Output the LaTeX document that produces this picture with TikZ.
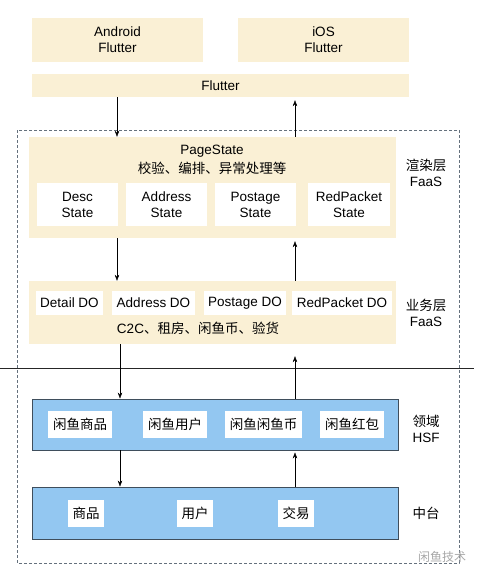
\documentclass[tikz,border=0pt]{standalone}
\usepackage{fontspec}
\setmainfont{Liberation Sans}
\newfontfamily\cjk{Noto Sans CJK SC}
\usetikzlibrary{arrows.meta}

\definecolor{cream}{HTML}{FAF0D5}
\definecolor{skyblue}{HTML}{93C7F1}
\definecolor{slate}{HTML}{3F4E5C}

\begin{document}
\begin{tikzpicture}[x=1pt,y=-1pt,thin,>={Stealth[length=6pt,width=4.5pt]},
  txt/.style={font=\fontsize{13.5}{16}\selectfont,align=center,inner sep=0pt},
  layer/.style={txt,fill=cream},
  item/.style={txt,fill=white},
  bluebox/.style={fill=skyblue,draw=slate,line width=0.9pt,inner sep=0pt}]

\useasboundingbox (0,0) rectangle (478,578);

% Top: platforms and Flutter.
\node[layer,minimum width=171,minimum height=44] (android) at (117.5,40) {Android\\Flutter};
\node[layer,minimum width=171,minimum height=44] (ios) at (323.5,40) {iOS\\Flutter};
\node[layer,minimum width=377,minimum height=23] (flutter) at (220.5,85.5) {Flutter};

% Dashed frame round the FaaS part.
\draw[dashed,color=slate!80,line width=0.8pt,dash pattern=on 3pt off 2pt] (17,130) rectangle (459,563);

% Render layer.
\node[layer,minimum width=367,minimum height=101] (page) at (212.5,187.5) {};
\node[txt] (pagetxt) at (212,160) {PageState\\[3pt]{\cjk 校验、编排、异常处理等}};
\node[item,minimum width=81,minimum height=43] (desc) at (77.5,204.5) {Desc\\State};
\node[item,minimum width=81,minimum height=43] (addr) at (166.5,204.5) {Address\\State};
\node[item,minimum width=81,minimum height=43] (post) at (255.5,204.5) {Postage\\State};
\node[item,minimum width=82,minimum height=43] (red) at (349,204.5) {RedPacket\\State};
\node[txt] (renderlbl) at (426,173) {{\cjk 渲染层}\\FaaS};

% Business layer.
\node[layer,minimum width=367,minimum height=63] (biz) at (212.5,312.5) {};
\node[item,minimum width=67,minimum height=24] (detaildo) at (69.5,303) {Detail DO};
\node[item,minimum width=83,minimum height=24] (addrdo) at (153.5,303) {Address DO};
\node[item,minimum width=82,minimum height=24] (postdo) at (245,303) {Postage DO};
\node[item,minimum width=100,minimum height=24] (reddo) at (342,303) {RedPacket DO};
\node[txt] (biztxt) at (198,328) {C2C{\cjk 、租房、闲鱼币、验货}};
\node[txt] (bizlbl) at (426,313) {{\cjk 业务层}\\FaaS};

% Separator.
\draw[color=black!85,line width=0.8pt] (0,368) -- (474,368);

% Domain layer.
\node[bluebox,minimum width=366,minimum height=51] (dom) at (215,424.5) {};
\node[item,minimum width=64,minimum height=27] (goods) at (80,424.5) {\cjk 闲鱼商品};
\node[item,minimum width=64,minimum height=27] (user) at (175,424.5) {\cjk 闲鱼用户};
\node[item,minimum width=77,minimum height=27] (coin) at (263.5,424.5) {\cjk 闲鱼闲鱼币};
\node[item,minimum width=64,minimum height=27] (packet) at (352,424.5) {\cjk 闲鱼红包};
\node[txt] (domlbl) at (426,429) {{\cjk 领域}\\HSF};

% Middle platform.
\node[bluebox,minimum width=366,minimum height=52] (mid) at (215,513) {};
\node[item,minimum width=36,minimum height=27] (mgoods) at (86,513.5) {\cjk 商品};
\node[item,minimum width=36,minimum height=27] (muser) at (195,513.5) {\cjk 用户};
\node[item,minimum width=36,minimum height=27] (mtrade) at (296,513.5) {\cjk 交易};
\node[txt] (midlbl) at (426,513) {\cjk 中台};

\node[txt,font=\fontsize{12}{14}\selectfont,color=black!35] (mark) at (442,557) {\cjk 闲鱼技术};

% Arrows down and up.
\coordinate (dnA) at (117,0);
\coordinate (dnB) at (120,0);
\coordinate (up) at (295,0);
\draw[->] (flutter.south -| dnA) -- (page.north -| dnA);
\draw[->] (page.south -| dnA) -- (biz.north -| dnA);
\draw[->] (biz.south -| dnB) -- (dom.north -| dnB);
\draw[->] (dom.south -| dnB) -- (mid.north -| dnB);
\draw[->,shorten >=3pt] (page.north -| up) -- (flutter.south -| up);
\draw[->,shorten >=3pt] (biz.north -| up) -- (page.south -| up);
\draw[->,shorten >=12pt] (dom.north -| up) -- (biz.south -| up);
\draw[->,shorten >=2pt] (mid.north -| up) -- (dom.south -| up);

\end{tikzpicture}
\end{document}
